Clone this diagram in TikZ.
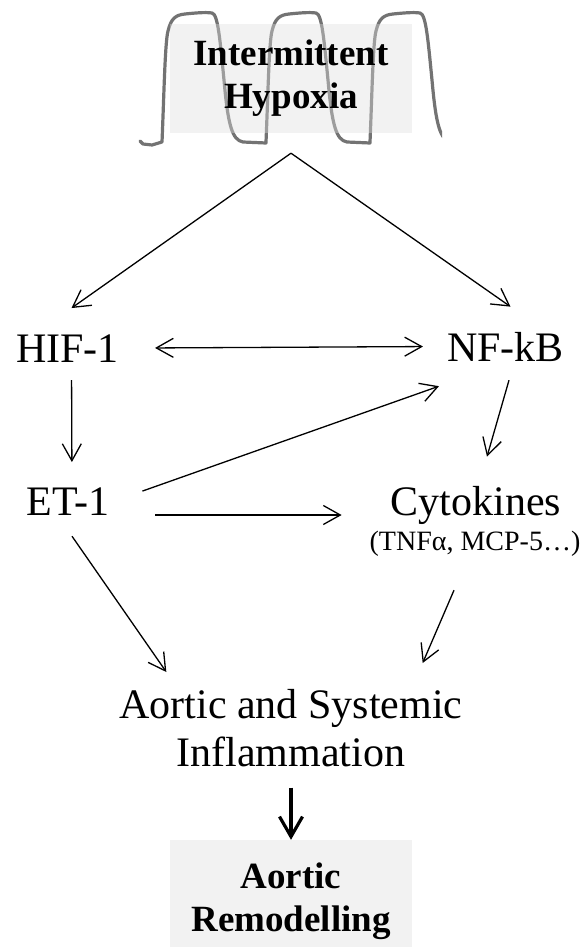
\documentclass[tikz,border=0pt]{standalone}
\usepackage{fontspec}
\setmainfont{Liberation Serif}
\usetikzlibrary{positioning,arrows.meta}

\tikzset{
  lbl/.style={font=\fontsize{42}{48}\selectfont, inner sep=0pt, text depth=0pt},
  small/.style={font=\fontsize{28}{30}\selectfont, inner sep=0pt, text depth=0pt},
  shade/.style={fill=black!13, fill opacity=0.4, text opacity=1, inner sep=0pt,
    minimum width=242pt, align=center, font=\fontsize{37}{43}\bfseries\selectfont},
  wave/.style={draw=black!55, line width=3.2pt, line join=round, line cap=round},
  arr/.style={-{Straight Barb[length=17pt,width=19pt]}, line width=1.3pt},
  darr/.style={{Straight Barb[length=17pt,width=19pt]}-{Straight Barb[length=17pt,width=19pt]}, line width=1.3pt},
  bigarr/.style={-{Straight Barb[length=20pt,width=23pt]}, line width=3.2pt}
}

\begin{document}
\begin{tikzpicture}[x=1pt,y=-1pt]
\useasboundingbox (0,0) rectangle (588,947);

\begin{scope}
\clip (130,0) rectangle (442,160);
\draw[wave] (140,141) -- (143,144) -- (152,145)
  \foreach \x in {163,267,371} {
    -- (\x-1,142) .. controls (\x+1,95) and (\x+2,42) .. (\x+5,31)
    .. controls (\x+8,19) and (\x+12,15) .. (\x+22,14)
    .. controls (\x+32,13) and (\x+42,12) .. (\x+49,13)
    .. controls (\x+55,14) and (\x+57,40) .. (\x+61,80)
    .. controls (\x+65,125) and (\x+69,140) .. (\x+80,142) -- (\x+103,143)
  };
\end{scope}

\node[shade, minimum height=109pt] (ih) at (291,78.5) {Intermittent\\Hypoxia};
\coordinate (apex) at ([yshift=-20pt]ih.south);

\node[lbl, anchor=base] (hif) at (67.5,362) {HIF-1};
\node[lbl, anchor=base] (nfkb) at (505.5,361) {NF-kB};
\node[lbl, anchor=base] (et) at (68,515) {ET-1};
\node[lbl, anchor=base] (cyt) at (476,515) {Cytokines};
\node[small, anchor=base] (cytex) at (475,550) {(TNFα, MCP-5…)};
\node[lbl, anchor=north, align=center] (infl) at (291,689) {Aortic and Systemic\\Inflammation};
\node[shade, minimum height=122pt] (ar) at (291,901) {Aortic\\Remodelling};

\draw[arr] (apex) -- ([shift={(4pt,26pt)}]hif.north);
\draw[arr] (apex) -- ([shift={(5pt,25pt)}]nfkb.north);
\draw[darr, shorten <=36pt, shorten >=24pt] (hif.east) -- (nfkb.west);
\draw[arr, shorten <=18pt, shorten >=25pt] ([xshift=4pt]hif.south) -- ([xshift=4pt]et.north);
\draw[arr] ([shift={(33pt,-4pt)}]et.north east) -- ([shift={(-8pt,-25pt)}]nfkb.south west);
\draw[arr, shorten <=46pt, shorten >=49pt] (et.base east) -- (cyt.base west);
\draw[arr] ([shift={(3.5pt,-19pt)}]nfkb.south) -- ([shift={(11pt,29pt)}]cyt.north);
\draw[arr] ([shift={(4pt,-21pt)}]et.south) -- ([shift={(47pt,17pt)}]infl.north west);
\draw[arr] ([shift={(-21pt,-40pt)}]cytex.south) -- ([shift={(-40pt,26pt)}]infl.north east);
\draw[bigarr, shorten <=21pt] (infl.south) -- (ar.north);
\end{tikzpicture}
\end{document}
